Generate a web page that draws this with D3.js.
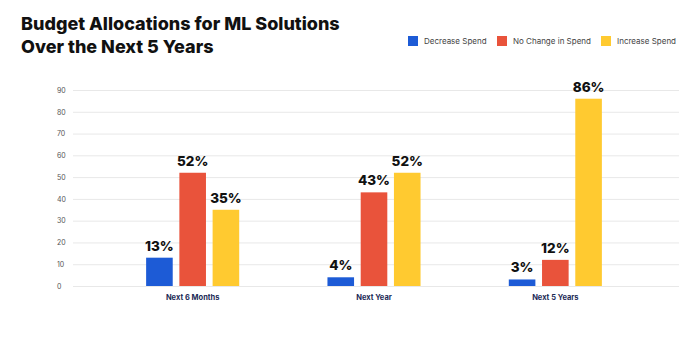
<!DOCTYPE html>
<html>
<head>
<meta charset="utf-8">
<script src="https://cdn.jsdelivr.net/npm/d3@7"></script>
<style>
  body { margin: 0; background: #fff; }
  #viz { width: 700px; height: 338px; }
</style>
</head>
<body>
<div id="viz"></div>
<script>
// data
const categories = ["Next 6 Months", "Next Year", "Next 5 Years"];
const seriesNames = ["Decrease Spend", "No Change in Spend", "Increase Spend"];
const decreaseSpend = [13, 4, 3];
const noChangeSpend = [52, 43, 12];
const increaseSpend = [35, 52, 86];
const yTicks = [0, 10, 20, 30, 40, 50, 60, 70, 80, 90];

const colors = ["#1d5bd6", "#e9533b", "#ffca30"];
const series = [decreaseSpend, noChangeSpend, increaseSpend];

const width = 700, height = 338;
const svg = d3.select("#viz").append("svg")
  .attr("width", width)
  .attr("height", height);

// title
const title = svg.append("text")
  .style("font-family", "Inter, sans-serif")
  .style("font-weight", 800)
  .style("font-size", "18px")
  .style("fill", "#111");
title.append("tspan").attr("x", 21).attr("y", 30).text("Budget Allocations for ML Solutions");
title.append("tspan").attr("x", 21).attr("y", 53).text("Over the Next 5 Years");

// legend
const legendX = [408, 497, 601];
const legend = svg.selectAll(".legend")
  .data(seriesNames)
  .join("g")
  .attr("class", "legend")
  .attr("transform", (d, i) => `translate(${legendX[i]}, 36)`);
legend.append("rect")
  .attr("width", 10).attr("height", 10)
  .attr("fill", (d, i) => colors[i]);
legend.append("text")
  .attr("x", 16).attr("y", 8)
  .text(d => d)
  .style("font-family", "Inter, sans-serif")
  .style("font-size", "8px")
  .style("fill", "#444");

// scales
const y = d3.scaleLinear()
  .domain([0, 90])
  .range([286, 90]);

const x0 = d3.scaleBand()
  .domain(categories)
  .range([102, 646])
  .paddingInner(0.45)
  .paddingOuter(0.225);

const x1 = d3.scaleBand()
  .domain(seriesNames)
  .range([0, x0.bandwidth()])
  .paddingInner(0.2)
  .paddingOuter(0.1);

// grid + y labels
const gridLeft = 73, gridRight = 679;
svg.append("g")
  .attr("transform", `translate(${gridLeft}, 0)`)
  .call(d3.axisLeft(y).tickValues(yTicks).tickSize(-(gridRight - gridLeft)))
  .call(g => g.select(".domain").remove())
  .call(g => g.selectAll("line").attr("stroke", "#e8e8e8"))
  .call(g => g.selectAll("text")
    .attr("x", -16)
    .attr("text-anchor", "start")
    .style("font-family", "Inter, sans-serif")
    .style("font-size", "7px")
    .style("fill", "#555"));

// category axis
svg.append("g")
  .attr("transform", `translate(0, ${y(0)})`)
  .call(d3.axisBottom(x0).tickSize(0).tickPadding(9))
  .call(g => g.select(".domain").remove())
  .call(g => g.selectAll("text")
    .style("font-family", "Inter, sans-serif")
    .style("font-weight", 700)
    .style("font-size", "7.5px")
    .style("fill", "#1b2a56"));

// bars
const rows = categories.map((c, ci) => ({
  category: c,
  values: seriesNames.map((s, si) => ({ name: s, value: series[si][ci], color: colors[si] }))
}));

const group = svg.selectAll(".bar-group")
  .data(rows)
  .join("g")
  .attr("class", "bar-group")
  .attr("transform", d => `translate(${x0(d.category)}, 0)`);

group.selectAll("rect")
  .data(d => d.values)
  .join("rect")
  .attr("x", d => x1(d.name))
  .attr("y", d => y(d.value))
  .attr("width", x1.bandwidth())
  .attr("height", d => y(0) - y(d.value))
  .attr("fill", d => d.color);

group.selectAll(".val")
  .data(d => d.values)
  .join("text")
  .attr("class", "val")
  .attr("x", d => x1(d.name) + x1.bandwidth() / 2)
  .attr("y", d => y(d.value) - 7)
  .attr("text-anchor", "middle")
  .text(d => d.value + "%")
  .style("font-family", "Inter, sans-serif")
  .style("font-weight", 800)
  .style("font-size", "13.5px")
  .style("fill", "#111");
</script>
</body>
</html>
